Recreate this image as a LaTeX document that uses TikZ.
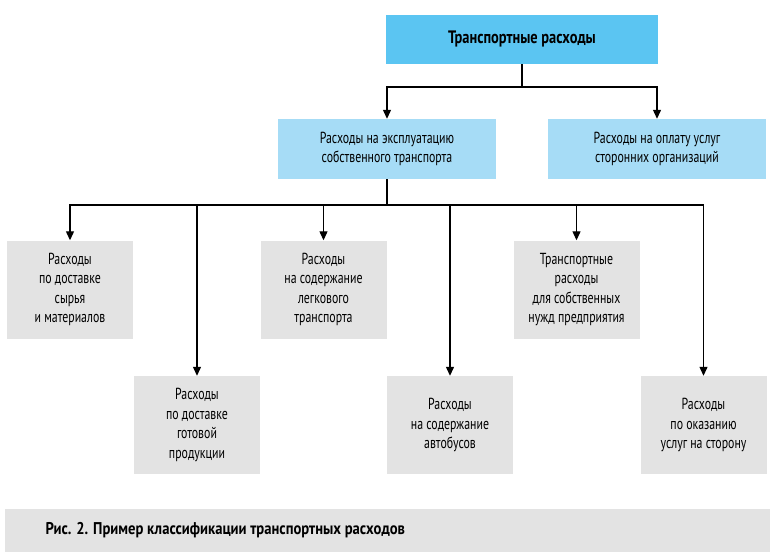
\documentclass[tikz,border=0pt]{standalone}
\usepackage{fontspec}
\setmainfont[FakeStretch=0.74]{PT Sans}
\newfontfamily\titlefont[FakeStretch=0.8]{PT Sans}
\newfontfamily\capfont[FakeStretch=0.86]{PT Sans}
\usepackage{xcolor}
\usepackage{tikz}
\usetikzlibrary{
  arrows.meta,
  positioning
}
\definecolor{topblue}{HTML}{5BC5F2}
\definecolor{midblue}{HTML}{A6DCF6}
\definecolor{boxgray}{HTML}{E3E3E3}

\begin{document}
\begin{tikzpicture}[
  x=1pt, y=-1pt,
  topB/.style={
    fill=topblue, minimum width=272pt, minimum height=49pt,
    align=center, font=\titlefont\fontsize{18}{20}\selectfont\bfseries, inner sep=0pt,
  },
  midB/.style={
    fill=midblue, minimum width=218pt, minimum height=60pt,
    align=center, font=\fontsize{16}{19.5}\selectfont, inner sep=0pt,
  },
  leafB/.style={
    fill=boxgray, minimum width=126pt, minimum height=98pt,
    align=center, font=\fontsize{16}{19.5}\selectfont, inner sep=0pt,
  },
  arr/.style={-{Triangle[length=9pt, width=8pt]}, line width=1.2pt},
  bus/.style={line width=1.2pt},
]
\useasboundingbox (0,0) rectangle (778,556);

% Top level
\node[topB] (top) at (522,39.5) {Транспортные расходы};

% Second level
\node[midB] (own) at (387,149) {Расходы на эксплуатацию\\собственного транспорта};
\node[midB] (ext) at (657,149) {Расходы на оплату услуг\\сторонних организаций};

% Leaves, upper row
\node[leafB] (raw)  at (70,289.5)  {Расходы\\по доставке\\сырья\\и материалов};
\node[leafB] (car)  at (323.5,289.5) {Расходы\\на содержание\\легкового\\транспорта};
\node[leafB] (need) at (576.5,289.5) {Транспортные\\расходы\\для собственных\\нужд предприятия};

% Leaves, lower row
\node[leafB] (prod) at (197,425) {Расходы\\по доставке\\готовой\\продукции};
\node[leafB] (bus)  at (450,425) {Расходы\\на содержание\\автобусов};
\node[leafB] (side) at (703.5,425) {Расходы\\по оказанию\\услуг на сторону};

% Connectors
\coordinate (b1) at (522,87);
\coordinate (b2) at (387,205);
\draw[bus] (top.south) -- (b1);
\draw[arr] (b1) -| (own.north);
\draw[arr] (b1) -| (ext.north);
\draw[bus] (own.south) -- (b2);
\foreach \leaf in {raw,prod,car,bus,need,side}
  \draw[arr] (b2) -| (\leaf.north);

% Caption
\node[fill=boxgray, minimum width=765pt, minimum height=43pt, inner sep=0pt] (capbar) at (387.5,530.5) {};
\node[font=\capfont\fontsize{17}{19}\selectfont\bfseries, anchor=west] (cap) at (42,530.5) {Рис. 2. Пример классификации транспортных расходов};

\end{tikzpicture}
\end{document}
